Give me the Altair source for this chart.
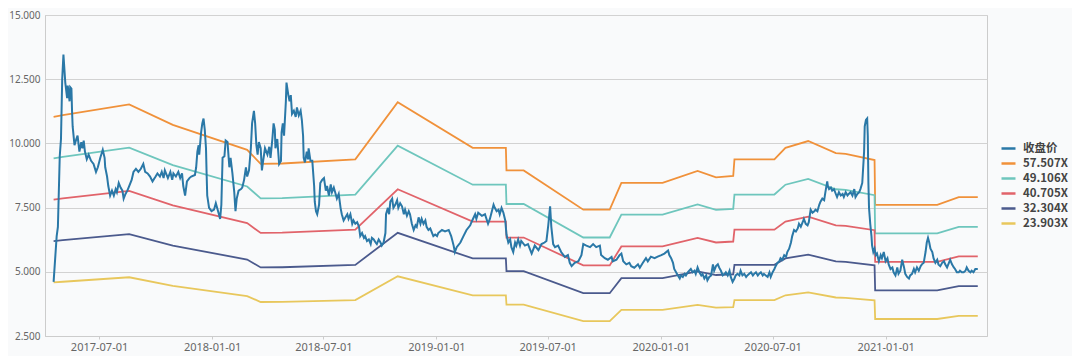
import altair as alt
import pandas as pd

# ---------------- data ----------------
START_DATE = "2017-04-18"   # day 0 of the day offsets below

price_days = [
    0, 5, 7, 10, 12, 14, 16, 19, 22, 23, 26, 27, 29, 30, 31, 34, 37, 39, 42, 45,
    47, 49, 51, 54, 57, 61, 65, 69, 72, 76, 80, 83, 84, 87, 89, 92, 95, 98, 101, 103,
    106, 109, 112, 114, 117, 120, 123, 127, 130, 134, 138, 142, 146, 149, 153, 157, 161, 166, 169, 173,
    176, 179, 181, 186, 190, 193, 195, 199, 203, 206, 209, 211, 214, 217, 221, 224, 230, 232, 234, 236,
    237, 240, 242, 244, 246, 248, 249, 250, 253, 257, 261, 264, 267, 269, 271, 273, 275, 278, 280, 283,
    286, 288, 291, 294, 296, 298, 301, 305, 307, 310, 313, 315, 318, 321, 323, 326, 328, 330, 332, 334,
    337, 339, 341, 344, 348, 351, 353, 356, 358, 360, 361, 364, 367, 370, 371, 373, 375, 378, 379, 382,
    384, 386, 388, 391, 394, 396, 399, 402, 404, 406, 407, 409, 412, 414, 415, 418, 421, 424, 425, 427,
    429, 432, 434, 437, 440, 443, 445, 448, 451, 453, 456, 459, 461, 464, 467, 469, 472, 475, 478, 480,
    483, 486, 488, 491, 494, 497, 499, 502, 505, 507, 510, 513, 516, 518, 521, 524, 526, 529, 532, 534,
    537, 540, 541, 544, 546, 548, 551, 553, 556, 559, 561, 564, 567, 570, 572, 575, 578, 580, 583, 586,
    589, 591, 594, 597, 599, 602, 605, 607, 610, 613, 616, 618, 621, 624, 626, 632, 637, 643, 647, 651,
    653, 656, 662, 667, 672, 678, 680, 686, 688, 691, 697, 702, 707, 710, 716, 718, 721, 724, 726, 729,
    732, 735, 737, 740, 743, 745, 748, 751, 753, 756, 759, 761, 767, 772, 778, 783, 789, 794, 799, 802,
    805, 808, 810, 813, 816, 821, 826, 832, 837, 840, 843, 848, 854, 859, 862, 867, 873, 878, 883, 889,
    891, 897, 902, 908, 910, 916, 921, 924, 927, 932, 937, 940, 945, 951, 954, 959, 964, 967, 972, 978,
    983, 989, 994, 1000, 1002, 1005, 1008, 1010, 1016, 1019, 1021, 1024, 1027, 1029, 1032, 1037, 1040, 1043, 1045, 1048,
    1051, 1054, 1056, 1059, 1062, 1064, 1067, 1070, 1073, 1075, 1078, 1081, 1083, 1086, 1089, 1092, 1094, 1097, 1100, 1102,
    1105, 1108, 1110, 1113, 1116, 1118, 1121, 1124, 1127, 1129, 1132, 1135, 1138, 1140, 1143, 1146, 1148, 1151, 1154, 1156,
    1159, 1162, 1165, 1167, 1170, 1173, 1175, 1178, 1181, 1183, 1186, 1189, 1192, 1194, 1197, 1200, 1202, 1205, 1208, 1211,
    1213, 1216, 1219, 1221, 1224, 1227, 1229, 1232, 1235, 1238, 1240, 1243, 1246, 1248, 1251, 1254, 1256, 1259, 1260, 1262,
    1265, 1267, 1270, 1273, 1275, 1278, 1281, 1284, 1286, 1289, 1292, 1294, 1297, 1300, 1303, 1305, 1308, 1311, 1313, 1316,
    1319, 1320, 1322, 1324, 1325, 1326, 1327, 1329, 1331, 1332, 1334, 1336, 1338, 1340, 1343, 1346, 1348, 1351, 1354, 1357,
    1359, 1362, 1365, 1367, 1370, 1373, 1375, 1378, 1381, 1384, 1386, 1389, 1392, 1394, 1397, 1400, 1402, 1405, 1408, 1411,
    1413, 1416, 1419, 1421, 1423, 1425, 1427, 1430, 1432, 1435, 1438, 1440, 1443, 1446, 1449, 1451, 1454, 1457, 1459, 1462,
    1465, 1467, 1470, 1473, 1475, 1478, 1481, 1484, 1486, 1489, 1492, 1494, 1497, 1500, 1502, 1504,
]

price_vals = [
    4.61, 6.39, 6.75, 9.50, 10.16, 12.51, 13.46, 12.37, 11.76, 12.25, 11.64, 12.19, 12.13, 11.27, 10.66, 9.93, 10.17, 10.30, 9.68, 10.05,
    9.81, 10.11, 9.68, 9.38, 9.56, 9.32, 9.20, 8.89, 9.07, 9.44, 9.75, 9.44, 9.07, 8.71, 8.34, 7.97, 8.16, 7.97, 8.22, 8.10,
    8.46, 8.28, 8.16, 7.85, 8.03, 8.16, 8.34, 8.58, 8.89, 9.01, 8.89, 9.01, 9.20, 8.89, 8.83, 8.71, 8.52, 8.71, 8.83, 8.71,
    8.89, 8.65, 8.95, 8.65, 8.89, 8.58, 8.83, 8.71, 8.89, 8.65, 8.83, 8.34, 7.97, 8.52, 8.65, 8.71, 8.77, 9.07, 9.68, 9.93,
    9.56, 10.42, 10.78, 10.97, 10.54, 9.81, 8.83, 7.97, 7.49, 7.36, 7.42, 7.67, 7.42, 7.24, 7.06, 7.61, 9.44, 9.50, 10.11, 10.05,
    9.07, 9.44, 8.83, 8.10, 7.36, 7.85, 8.16, 8.22, 8.28, 8.58, 9.07, 8.71, 8.95, 9.81, 10.78, 11.27, 10.78, 9.93, 9.56, 10.05,
    9.81, 8.95, 9.32, 9.81, 9.56, 9.87, 9.44, 10.17, 10.78, 10.54, 9.81, 10.17, 9.20, 9.32, 10.42, 10.78, 10.30, 11.64, 12.37, 11.88,
    11.64, 11.88, 11.15, 11.27, 11.03, 11.40, 11.09, 11.27, 10.91, 10.30, 9.44, 9.26, 9.68, 9.38, 9.81, 9.32, 9.32, 8.34, 7.73, 7.36,
    7.24, 7.61, 8.46, 8.58, 8.65, 8.16, 8.34, 7.97, 8.40, 8.10, 8.28, 8.03, 7.85, 8.03, 7.49, 7.24, 7.00, 7.12, 7.24, 7.06,
    7.24, 6.87, 7.00, 6.87, 6.93, 6.75, 6.39, 6.51, 6.32, 6.39, 6.20, 6.26, 6.08, 6.32, 6.26, 6.14, 6.08, 6.26, 6.14, 6.02,
    6.14, 6.51, 7.24, 7.49, 7.24, 7.73, 7.85, 7.49, 7.61, 7.79, 7.49, 7.67, 7.55, 7.24, 7.42, 7.18, 7.36, 7.24, 6.87, 6.63,
    6.81, 6.75, 7.12, 6.87, 7.06, 6.87, 7.00, 6.75, 6.63, 6.69, 6.51, 6.39, 6.45, 6.39, 6.51, 6.63, 6.57, 6.63, 6.39, 6.02,
    5.77, 5.96, 6.14, 6.39, 6.63, 6.81, 6.93, 7.24, 7.06, 7.30, 7.18, 7.24, 6.87, 7.06, 7.61, 7.49, 7.36, 7.42, 7.24, 7.49,
    7.30, 7.00, 6.45, 6.14, 6.26, 5.96, 5.77, 6.14, 6.02, 6.26, 6.02, 6.20, 6.02, 6.08, 5.71, 6.02, 5.84, 6.08, 6.14, 6.20,
    6.81, 7.55, 6.75, 6.08, 5.96, 6.02, 5.77, 5.58, 5.65, 5.35, 5.22, 5.35, 5.41, 5.65, 6.08, 6.02, 5.96, 6.08, 5.96, 6.02,
    5.65, 5.53, 5.47, 5.58, 5.41, 5.47, 5.65, 5.71, 5.41, 5.29, 5.35, 5.22, 5.16, 5.29, 5.16, 5.35, 5.53, 5.41, 5.59, 5.53,
    5.59, 5.65, 5.71, 5.83, 5.65, 5.53, 5.35, 5.11, 4.86, 4.74, 4.86, 4.80, 4.92, 4.86, 4.98, 5.11, 4.98, 5.04, 4.92, 5.17,
    4.98, 4.86, 4.92, 4.74, 4.86, 4.67, 4.80, 4.86, 5.29, 5.04, 5.22, 5.29, 5.17, 5.04, 4.86, 4.92, 4.98, 4.86, 5.04, 4.80,
    4.61, 4.74, 4.86, 4.92, 4.86, 5.04, 4.86, 4.92, 4.80, 4.86, 4.92, 4.98, 4.86, 4.92, 4.98, 4.86, 4.92, 4.98, 4.86, 4.92,
    4.86, 4.80, 4.98, 4.80, 4.98, 5.11, 5.22, 5.35, 5.41, 5.53, 5.47, 5.65, 5.59, 5.77, 5.90, 6.14, 6.39, 6.63, 6.57, 6.69,
    6.87, 6.75, 6.93, 7.06, 6.87, 6.81, 6.93, 7.42, 7.30, 7.36, 7.42, 7.36, 7.61, 7.73, 7.85, 7.79, 8.10, 8.52, 8.34, 8.22,
    8.28, 8.16, 8.22, 8.03, 7.91, 8.10, 7.97, 8.03, 7.91, 8.10, 7.97, 8.03, 8.10, 7.97, 8.22, 7.91, 8.03, 8.10, 8.22, 8.46,
    9.68, 10.66, 10.91, 10.97, 10.30, 8.46, 7.49, 6.87, 6.39, 6.02, 5.77, 5.90, 5.65, 5.71, 5.41, 5.65, 5.53, 5.77, 5.41, 5.53,
    5.29, 5.11, 5.17, 4.98, 4.86, 5.17, 4.92, 5.04, 5.47, 5.17, 4.92, 4.80, 4.74, 4.86, 4.92, 5.11, 4.98, 5.17, 5.04, 5.22,
    5.29, 5.35, 5.77, 6.14, 6.32, 6.14, 5.90, 5.77, 5.53, 5.35, 5.47, 5.29, 5.22, 5.35, 5.41, 5.29, 5.17, 5.35, 5.47, 5.29,
    5.17, 5.11, 4.98, 4.98, 5.04, 4.98, 4.98, 5.04, 5.17, 5.04, 4.98, 5.04, 4.98, 5.11, 5.11, 5.11,
]

# per-share earnings used for the PE bands (band = multiple x EPS)
eps_days = [0, 15, 123, 194, 315, 337, 372, 491, 560, 682, 736, 737, 765, 862, 905, 924, 991, 1048,
            1078, 1106, 1108, 1173, 1191, 1228, 1273, 1289, 1336, 1337, 1438, 1473, 1504]
eps_vals = [0.1918, 0.1930, 0.2003, 0.1864, 0.1695, 0.1600, 0.1603, 0.1631, 0.2018, 0.1709, 0.1709, 0.1556,
            0.1556, 0.1290, 0.1290, 0.1471, 0.1471, 0.1553, 0.1509, 0.1518, 0.1631, 0.1631, 0.1709, 0.1755,
            0.1673, 0.1668, 0.1626, 0.1323, 0.1323, 0.1375, 0.1375]

band_multiples = [57.507, 49.106, 40.705, 32.304, 23.903]
series_names = ["收盘价", "57.507X", "49.106X", "40.705X", "32.304X", "23.903X"]
series_colors = ["#2a78a7", "#f0913a", "#6ec6bd", "#e1636a", "#4b5a8d", "#e8c75c"]

x_tick_labels = ["2017-07-01", "2018-01-01", "2018-07-01", "2019-01-01",
                 "2019-07-01", "2020-01-01", "2020-07-01", "2021-01-01"]
x_domain = ["2017-04-04", "2021-06-15"]
y_ticks = [2.5, 5.0, 7.5, 10.0, 12.5, 15.0]

# ---------------- build tables ----------------
start = pd.Timestamp(START_DATE)


def to_iso(days):
    return [(start + pd.Timedelta(days=int(d))).strftime("%Y-%m-%dT00:00:00") for d in days]


def dt(s):
    y, m, d = (int(p) for p in s.split("-"))
    return alt.DateTime(year=y, month=m, date=d)


price_df = pd.DataFrame({"date": to_iso(price_days), "value": price_vals,
                         "series": series_names[0]})

band_rows = []
for name, mult in zip(series_names[1:], band_multiples):
    for d_iso, e in zip(to_iso(eps_days), eps_vals):
        band_rows.append({"date": d_iso, "value": round(e * mult, 3), "series": name})
bands_df = pd.DataFrame(band_rows)

# ---------------- encodings ----------------
x_enc = alt.X(
    "date:T",
    scale=alt.Scale(domain=[dt(x_domain[0]), dt(x_domain[1])]),
    axis=alt.Axis(values=[dt(s) for s in x_tick_labels], format="%Y-%m-%d", title=None,
                  grid=False, tickSize=3, tickColor="#cccccc", domainColor="#cccccc",
                  labelFont="Noto Sans", labelFontSize=11, labelColor="#666666",
                  labelPadding=2, labelFlush=False),
)
y_enc = alt.Y(
    "value:Q",
    scale=alt.Scale(domain=[2.5, 15], nice=False, zero=False),
    axis=alt.Axis(values=y_ticks, format=".3f", title=None, ticks=False,
                  domainColor="#cccccc", gridColor="#d2d2d2", gridWidth=1,
                  labelFont="Noto Sans", labelFontSize=10, labelColor="#666666",
                  labelPadding=5),
)
color_enc = alt.Color(
    "series:N",
    scale=alt.Scale(domain=series_names, range=series_colors),
    legend=alt.Legend(orient="none", legendX=955, legendY=125, title=None,
                      symbolType="stroke", symbolSize=196, symbolStrokeWidth=2.5,
                      labelFont="Noto Sans CJK SC", labelFontSize=11.5, labelFontWeight="bold",
                      labelColor="#444444", labelOffset=6, rowPadding=1),
)

bands = alt.Chart(bands_df).mark_line(strokeWidth=1.8).encode(x=x_enc, y=y_enc, color=color_enc)
price = alt.Chart(price_df).mark_line(strokeWidth=2).encode(x=x_enc, y=y_enc, color=color_enc)

chart = (
    alt.layer(bands, price)
    .properties(width=942, height=321, background="#f9fafb",
                padding={"left": 37, "top": 7, "right": 85, "bottom": 20},
                autosize=alt.AutoSizeParams(type="none"))
    .configure_view(stroke="#cccccc", strokeWidth=1)
)

chart.save("out.html", embed_options={"renderer": "svg", "actions": False})
